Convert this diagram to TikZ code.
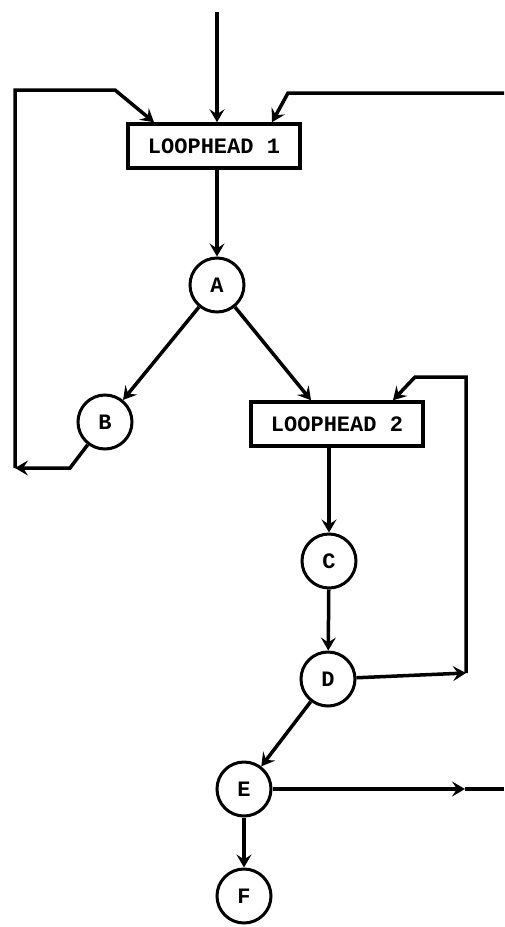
\documentclass[tikz,border=0pt]{standalone}
\usepackage{fontspec}
\setmonofont{Liberation Mono}
\usetikzlibrary{arrows.meta, positioning, shapes}

\begin{document}
\begin{tikzpicture}[x=1pt, y=-1pt, line width=3.5pt,
	>={Stealth[length=13pt, width=15pt, inset=5pt]},
	loophead/.style={draw, rectangle, minimum width=172pt, minimum height=44pt, inner sep=0pt, font=\ttfamily\bfseries\fontsize{22}{24}\selectfont},
	blk/.style={draw, circle, line width=3pt, minimum size=54pt, inner sep=0pt, font=\ttfamily\bfseries\fontsize{22}{24}\selectfont}]
	\useasboundingbox (0,0) rectangle (504,927);
	% nodes
	\node[loophead] (h1) at (214,146) {LOOPHEAD 1};
	\node[blk] (A) at (217,285) {A};
	\node[blk] (B) at (105,422) {B};
	\node[loophead] (h2) at (337,424) {LOOPHEAD 2};
	\node[blk] (C) at (329,561) {C};
	\node[blk] (D) at (328,679) {D};
	\node[blk] (E) at (244,789) {E};
	\node[blk] (F) at (244,896) {F};
	% loose ends
	\coordinate (in) at (217,12);
	\coordinate (b1) at (70,468);
	\coordinate (l1) at (15,468);
	\coordinate (l2) at (15,90);
	\coordinate (l3) at (115,90);
	\coordinate (r1) at (504,93);
	\coordinate (r2) at (288,93);
	\coordinate (d1) at (466,673);
	\coordinate (d2) at (466,377);
	\coordinate (d3) at (415,377);
	\coordinate (e1) at (465,789);
	\coordinate (e2) at (504,789);
	\path[->]
	(in) edge (in |- h1.north)
	(h1.south -| A) edge (A)
	(A) edge (B)
	(A) edge ([xshift=-26pt]h2.north)
	(h2.south -| C) edge (C)
	(C) edge (D)
	(D) edge (E)
	(E) edge (F)
	(D) edge (d1)
	(E) edge (e1)
	;
	\draw[->] (B) -- (b1) -- (l1);
	\draw[->] (l1) -- (l2) -- (l3) -- ([xshift=-60pt]h1.north);
	\draw[->] (r1) -- (r2) -- ([xshift=58pt]h1.north);
	\draw[->] (d1) -- (d2) -- (d3) -- ([xshift=56pt]h2.north);
	\draw (e1) -- (e2);
\end{tikzpicture}
\end{document}
